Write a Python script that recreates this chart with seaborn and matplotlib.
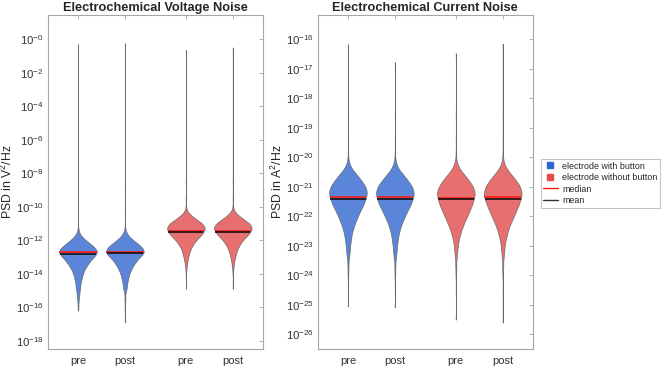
import numpy as np
import pandas as pd
import matplotlib
matplotlib.use("Agg")
import matplotlib.pyplot as plt
import seaborn as sns
from matplotlib.lines import Line2D
from matplotlib.ticker import NullLocator

sns.set_style("white")
plt.rcParams["font.family"] = ["Liberation Sans", "DejaVu Sans"]
plt.rcParams["mathtext.fontset"] = "custom"
plt.rcParams["mathtext.rm"] = "Liberation Sans"
plt.rcParams["mathtext.it"] = "Liberation Sans:italic"
plt.rcParams["mathtext.bf"] = "Liberation Sans:bold"

# categories
x_labels = ["pre", "post", "pre", "post"]
x_pos = [0, 1, 2.3, 3.3]
groups = ["electrode with button", "electrode with button",
          "electrode without button", "electrode without button"]

# voltage noise: log10(PSD) levels and how many spectra fall there
v_btn_pre_lv = [-0.3, -9.0, -10.5, -11.25, -11.5, -11.75, -12.0, -12.25, -12.5, -12.75, -13.0, -13.25,
                -13.5, -13.75, -14.0, -14.25, -14.5, -14.75, -15.0, -15.25, -15.5, -15.75, -16.0, -16.2]
v_btn_pre_n = [1, 1, 1, 1, 3, 12, 30, 52, 72, 80, 62, 48, 36, 26, 19, 15, 11, 9, 7, 5, 3, 2, 1, 1]
v_btn_post_lv = [-0.25, -9.0, -10.5, -11.25, -11.5, -11.75, -12.0, -12.25, -12.5, -12.75, -13.0, -13.25,
                 -13.5, -13.75, -14.0, -14.25, -14.5, -14.75, -15.0, -15.5, -16.0, -16.5, -16.9]
v_btn_post_n = [1, 1, 1, 1, 4, 14, 33, 56, 75, 80, 60, 46, 34, 25, 18, 14, 10, 8, 6, 3, 2, 1, 1]
v_nob_pre_lv = [-0.65, -8.5, -9.5, -10.0, -10.25, -10.5, -10.75, -11.0, -11.25, -11.5, -11.75, -12.0,
                -12.25, -12.5, -12.75, -13.0, -13.25, -13.5, -13.75, -14.0, -14.9]
v_nob_pre_n = [1, 1, 1, 1, 4, 20, 42, 68, 80, 74, 60, 42, 30, 20, 14, 10, 6, 4, 2, 1, 1]
v_nob_post_lv = [-0.5, -8.5, -9.5, -10.0, -10.25, -10.5, -10.75, -11.0, -11.25, -11.5, -11.75, -12.0,
                 -12.25, -12.5, -12.75, -13.0, -13.25, -13.5, -13.75, -14.0, -14.9]
v_nob_post_n = [1, 1, 1, 1, 5, 21, 44, 69, 80, 73, 58, 41, 29, 20, 14, 10, 6, 4, 2, 1, 1]

# current noise
c_btn_pre_lv = [-16.17, -18.6, -19.4, -19.8, -20.0, -20.2, -20.4, -20.6, -20.8, -21.0, -21.2, -21.4, -21.6,
                -21.8, -22.0, -22.2, -22.4, -22.6, -22.8, -23.0, -23.2, -23.4, -23.7, -24.0, -24.4, -25.05]
c_btn_pre_n = [1, 1, 1, 1, 1, 5, 16, 38, 57, 74, 80, 74, 65, 52, 41, 31, 22, 16, 12, 9, 7, 5, 3, 2, 1, 1]
c_btn_post_lv = [-16.78, -18.6, -19.4, -19.8, -20.0, -20.2, -20.4, -20.6, -20.8, -21.0, -21.2, -21.4, -21.6,
                 -21.8, -22.0, -22.2, -22.4, -22.6, -22.8, -23.0, -23.2, -23.4, -23.7, -24.0, -24.4, -25.08]
c_btn_post_n = [1, 1, 1, 1, 1, 5, 15, 36, 55, 73, 80, 75, 66, 53, 42, 31, 22, 16, 12, 9, 7, 5, 3, 2, 1, 1]
c_nob_pre_lv = [-16.48, -18.6, -19.4, -19.8, -20.0, -20.2, -20.4, -20.6, -20.8, -21.0, -21.2, -21.4, -21.6,
                -21.8, -22.0, -22.2, -22.4, -22.6, -22.8, -23.0, -23.2, -23.4, -23.7, -24.0, -24.5, -25.5]
c_nob_pre_n = [1, 1, 1, 1, 1, 5, 16, 36, 56, 72, 80, 76, 68, 58, 47, 36, 26, 18, 12, 8, 6, 4, 3, 2, 1, 1]
c_nob_post_lv = [-16.15, -18.6, -19.4, -19.8, -20.0, -20.2, -20.4, -20.6, -20.8, -21.0, -21.2, -21.4, -21.6,
                 -21.8, -22.0, -22.2, -22.4, -22.6, -22.8, -23.0, -23.2, -23.4, -23.7, -24.0, -24.5, -25.6]
c_nob_post_n = [1, 1, 1, 1, 1, 5, 17, 37, 57, 73, 80, 76, 67, 57, 46, 35, 25, 18, 12, 8, 6, 4, 3, 2, 1, 1]

# log10 median / mean per violin
v_median = [-12.72, -12.68, -11.45, -11.45]
v_mean = [-12.82, -12.76, -11.52, -11.5]
c_median = [-21.34, -21.36, -21.37, -21.34]
c_mean = [-21.42, -21.42, -21.43, -21.42]

palette = {"electrode with button": "#5b85d8", "electrode without button": "#e86f6f"}
legend_colors = ["#2f62d2", "#e24a4a"]


def build_df(levels, counts):
    rows = []
    for lv, n, p, g in zip(levels, counts, x_pos, groups):
        vals = 10.0 ** np.repeat(lv, n)
        rows.append(pd.DataFrame({"pos": p, "psd": vals, "group": g}))
    return pd.concat(rows, ignore_index=True)


volt = build_df([v_btn_pre_lv, v_btn_post_lv, v_nob_pre_lv, v_nob_post_lv],
                [v_btn_pre_n, v_btn_post_n, v_nob_pre_n, v_nob_post_n])
curr = build_df([c_btn_pre_lv, c_btn_post_lv, c_nob_pre_lv, c_nob_post_lv],
                [c_btn_pre_n, c_btn_post_n, c_nob_pre_n, c_nob_post_n])

fig = plt.figure(figsize=(6.61, 3.67), dpi=100)
ax1 = fig.add_axes([0.0726, 0.049, 0.325, 0.910])
ax2 = fig.add_axes([0.481, 0.049, 0.325, 0.910])


def draw(ax, df, medians, means):
    sns.violinplot(data=df, x="pos", y="psd", hue="group", palette=palette, native_scale=True,
                   log_scale=(False, True), inner=None, cut=0, density_norm="width",
                   dodge=False, width=0.8, saturation=1, linewidth=0.5, linecolor="#6a6a6a",
                   bw_adjust=0.6, gridsize=300, legend=False, ax=ax)
    # median and mean bars across the violin width
    for coll in ax.collections:
        v = coll.get_paths()[0].vertices
        cx = 0.5 * (v[:, 0].min() + v[:, 0].max())
        i = int(np.argmin([abs(cx - p) for p in x_pos]))
        r = v[v[:, 0] >= cx]
        order = np.argsort(r[:, 1])
        ly = np.log10(r[order, 1])
        hw = r[order, 0] - cx
        for lvl, col in [(medians[i], "#ff1a1a"), (means[i], "#111111")]:
            w = np.interp(lvl, ly, hw)
            ax.plot([x_pos[i] - w, x_pos[i] + w], [10 ** lvl, 10 ** lvl], color=col, lw=1.2,
                    solid_capstyle="butt")
    ax.set_xticks(x_pos, x_labels)
    ax.set_xlim(-0.64, 3.94)
    ax.set_xlabel("")
    for s in ax.spines.values():
        s.set_visible(True)
        s.set_color("#a6a6a6")
        s.set_linewidth(0.8)
    ax.tick_params(direction="in", top=True, right=True, length=3, width=0.6,
                   color="#a6a6a6", labelcolor="#333333", pad=3)
    ax.tick_params(axis="x", labelsize=8, pad=5)
    ax.tick_params(axis="y", labelsize=8.2)


draw(ax1, volt, v_median, v_mean)
yt = np.arange(-18, 1, 2)
ax1.set_yticks(10.0 ** yt, [r"$10^{-%d}$" % (-k) for k in yt])
ax1.set_ylim(10 ** -18.5, 10 ** 1.44)
ax1.yaxis.set_minor_locator(NullLocator())
ax1.set_ylabel(r"PSD in V$^2$/Hz", fontsize=8.8, color="#262626")
ax1.yaxis.set_label_coords(-0.152, 0.5)
ax1.set_title("Electrochemical Voltage Noise", fontsize=9.2, fontweight="bold", pad=3)

draw(ax2, curr, c_median, c_mean)
yt = np.arange(-26, -15, 1)
ax2.set_yticks(10.0 ** yt, [r"$10^{-%d}$" % (-k) for k in yt])
ax2.set_ylim(10 ** -26.5, 10 ** -15.18)
ax2.yaxis.set_minor_locator(NullLocator())
ax2.set_ylabel(r"PSD in A$^2$/Hz", fontsize=8.8, color="#262626")
ax2.yaxis.set_label_coords(-0.152, 0.5)
ax2.set_title("Electrochemical Current Noise", fontsize=9.2, fontweight="bold", pad=3)

handles = [Line2D([], [], marker="s", linestyle="None", color=legend_colors[0], markersize=5),
           Line2D([], [], marker="s", linestyle="None", color=legend_colors[1], markersize=5),
           Line2D([], [], color="#ff1a1a", lw=1),
           Line2D([], [], color="#333333", lw=1)]
labels = ["electrode with button", "electrode without button", "median", "mean"]
leg = fig.legend(handles, labels, loc="upper left", bbox_to_anchor=(0.818, 0.567), fontsize=6.4,
                 frameon=True, fancybox=False, edgecolor="#a6a6a6", handlelength=1.6,
                 borderpad=0.3, labelspacing=0.28, handletextpad=0.5, borderaxespad=0)
leg.get_frame().set_linewidth(0.6)

fig.savefig("out.png", dpi=100)
